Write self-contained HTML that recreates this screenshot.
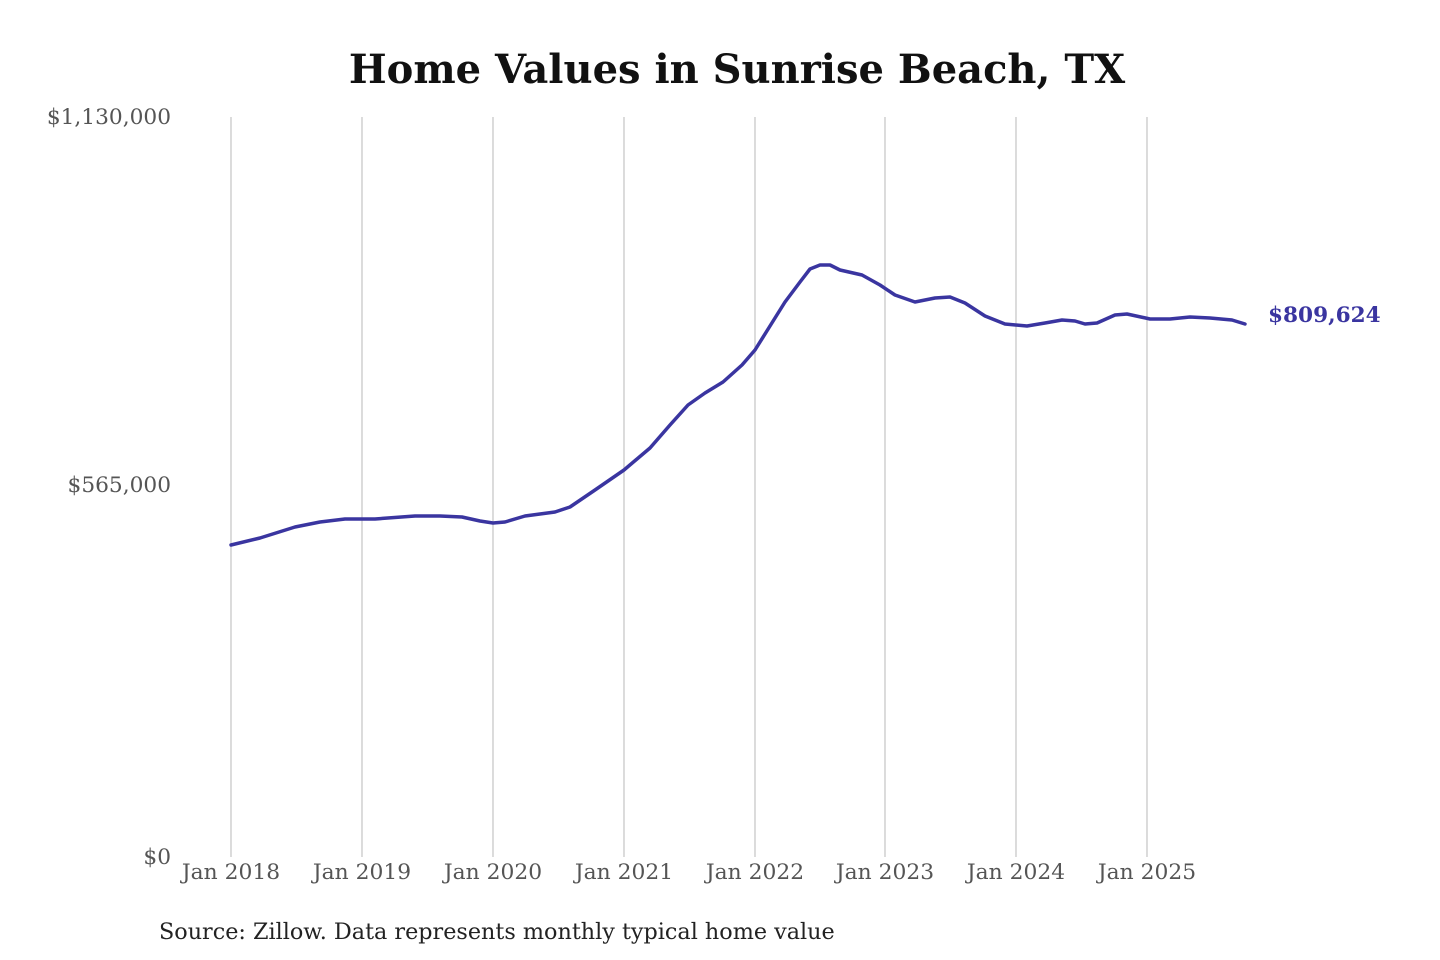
<!DOCTYPE html>
<html><head><meta charset="utf-8"><style>
html,body{margin:0;padding:0;background:#fff;}
svg{display:block;}
text{font-family:"DejaVu Serif","Liberation Serif",serif;}
</style></head><body>
<svg width="1440" height="960" viewBox="0 0 1440 960" xmlns="http://www.w3.org/2000/svg">
<rect width="1440" height="960" fill="#fff"/>
<text x="737" y="83" text-anchor="middle" font-size="40" font-weight="bold" fill="#111">Home Values in Sunrise Beach, TX</text>
<g stroke="#c8c8c8" stroke-width="1.3">
<line x1="231" y1="117" x2="231" y2="857"/><line x1="362" y1="117" x2="362" y2="857"/>
<line x1="493" y1="117" x2="493" y2="857"/><line x1="624" y1="117" x2="624" y2="857"/>
<line x1="755" y1="117" x2="755" y2="857"/><line x1="885" y1="117" x2="885" y2="857"/>
<line x1="1016" y1="117" x2="1016" y2="857"/><line x1="1147" y1="117" x2="1147" y2="857"/>
</g>
<g font-size="21.7" fill="#555" text-anchor="end">
<text x="171" y="124">$1,130,000</text>
<text x="171" y="492">$565,000</text>
<text x="171" y="864">$0</text>
</g>
<g font-size="21.8" fill="#555" text-anchor="middle">
<text x="231" y="879">Jan 2018</text><text x="362" y="879">Jan 2019</text>
<text x="493" y="879">Jan 2020</text><text x="624" y="879">Jan 2021</text>
<text x="755" y="879">Jan 2022</text><text x="885" y="879">Jan 2023</text>
<text x="1016" y="879">Jan 2024</text><text x="1147" y="879">Jan 2025</text>
</g>
<polyline fill="none" stroke="#3a35a0" stroke-width="3.5" stroke-linejoin="round" stroke-linecap="round" points="231,545 260,538 295,527 320,522 345,519 375,519 415,516 440,516 462,517 480,521 493,523 505,522 525,516 555,512 570,507 595,490 624,470 650,448 670,425 688,405 705,393 723,382 742,365 755,350 770,326 785,302 800,282 810,269 820,265 830,265 840,270 862,275 880,285 895,295 915,302 935,298 950,297 965,303 985,316 1005,324 1027,326 1045,323 1062,320 1075,321 1085,324 1097,323 1115,315 1127,314 1150,319 1170,319 1190,317 1210,318 1232,320 1245,324"/>
<text x="1268" y="322" font-size="21.6" font-weight="bold" fill="#3a35a0">$809,624</text>
<text x="159" y="939" font-size="22.3" fill="#222">Source: Zillow. Data represents monthly typical home value</text>
</svg>
</body></html>
